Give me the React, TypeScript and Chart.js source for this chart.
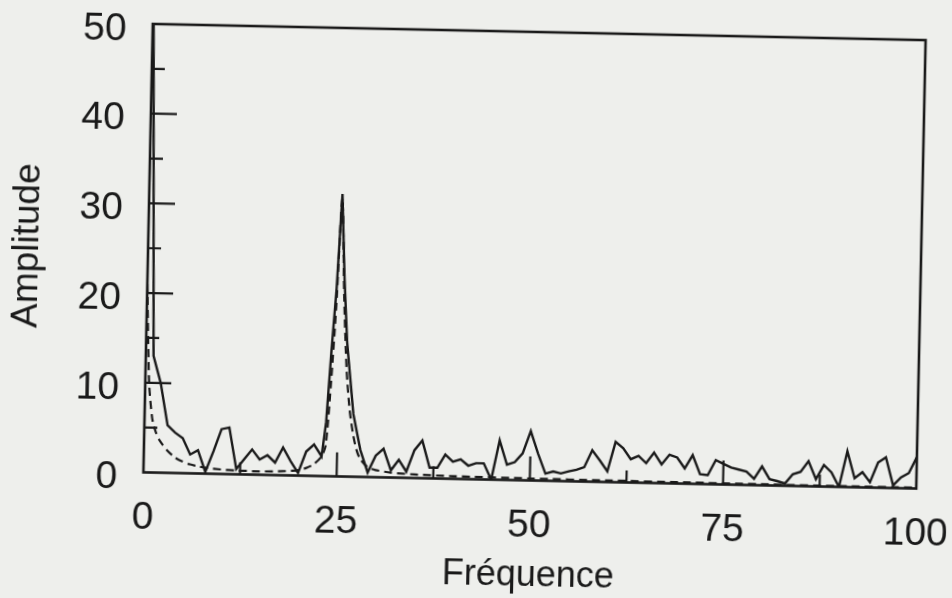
import React, { useEffect, useRef } from 'react';
import { Chart, registerables } from 'chart.js';

Chart.register(...registerables);

// Measured spectrum (solid line): frequency / amplitude
const solidFreq = [
  0, 1, 2, 3, 4, 5, 6, 7, 8, 9, 10, 11, 12, 13, 14, 15, 16, 17, 18, 19, 20, 21, 22, 23,
  23.5, 24, 24.5, 25, 25.5, 26, 26.5, 27, 27.5, 28,
  29, 30, 31, 32, 33, 34, 35, 36, 37, 38, 39, 40, 41, 42, 43, 44, 45, 46, 47, 48, 49, 50,
  51, 52, 53, 54, 55, 56, 57, 58, 59, 60, 61, 62, 63, 64, 65, 66, 67, 68, 69, 70,
  71, 72, 73, 74, 75, 76, 77, 78, 79, 80, 81, 82, 83, 84, 85, 86, 87, 88, 89, 90,
  91, 92, 93, 94, 95, 96, 97, 98, 99, 100,
];
const solidAmp = [
  55, 13, 10, 5.3, 4.5, 3.9, 2.1, 2.6, 0.2, 2.5, 5.0, 5.2, 0.6, 1.7, 2.8, 1.7, 2.2, 1.4, 3.1, 1.6, 0.3, 2.7, 3.5, 2.2,
  6, 14, 21, 31.5, 22, 15, 11, 7, 5, 3.0,
  0.5, 2.4, 3.2, 0.8, 2.0, 0.7, 3.1, 4.2, 1.2, 1.2, 2.7, 1.9, 2.2, 1.5, 1.8, 1.8, 0, 4.4, 1.7, 2.0, 3.0, 5.5,
  3.0, 0.8, 1.05, 0.85, 1.1, 1.3, 1.6, 3.5, 2.4, 1.2, 4.5, 3.8, 2.6, 3.0, 2.2, 3.4, 2.1, 3.2, 2.9, 1.7,
  3.2, 1.1, 1.0, 2.7, 2.3, 1.9, 1.7, 1.5, 0.7, 2.1, 0.7, 0.5, 0.25, 1.3, 1.6, 2.8, 0.8, 2.4, 1.6, 0,
  4.0, 1.0, 1.7, 0.6, 2.8, 3.4, 0.3, 1.2, 1.7, 3.5,
];

// Fitted curve (dashed line)
const fitFreq = [
  0, 0.5, 1, 1.5, 2, 3, 4, 5, 6, 7, 8, 10, 12, 15, 18, 20, 21, 22, 23, 23.5, 24, 24.5, 25,
  25.5, 26, 26.5, 27, 27.5, 28, 29, 30, 32, 35, 40, 50, 60, 70, 80, 90, 100,
];
const fitAmp = [
  21, 10, 6.0, 4.5, 3.6, 2.5, 1.75, 1.3, 1.0, 0.8, 0.65, 0.5, 0.42, 0.38, 0.45, 0.6, 0.85, 1.3, 2.2, 3.4, 10, 19, 31,
  20, 12, 7.5, 4.8, 3.0, 2.0, 1.1, 0.8, 0.55, 0.4, 0.3, 0.22, 0.18, 0.15, 0.12, 0.1, 0.1,
];

const xTickValues = [0, 25, 50, 75, 100];
const yTickValues = [0, 10, 20, 30, 40, 50];
const xInnerMarks = [12.5, 25, 37.5, 50, 62.5, 75, 87.5];
const yInnerMarks = [5, 10, 15, 20, 25, 30, 35, 40, 45];
const xTitle = 'Fréquence';
const yTitle = 'Amplitude';

const INK = '#1a1a1a';
const FONT = "'Liberation Sans', Arial, Helvetica, sans-serif";

const frameAndMarks = {
  id: 'frameAndMarks',
  afterDatasetsDraw(chart: any) {
    const { ctx, chartArea: a, scales } = chart;
    ctx.save();
    ctx.strokeStyle = INK;
    ctx.lineWidth = 2.6;
    ctx.strokeRect(a.left, a.top, a.right - a.left, a.bottom - a.top);
    ctx.lineWidth = 2.2;
    ctx.beginPath();
    yInnerMarks.forEach((v) => {
      const y = scales.y.getPixelForValue(v);
      const len = v % 10 === 0 ? 26 : 13;
      ctx.moveTo(a.left, y);
      ctx.lineTo(a.left + len, y);
    });
    xInnerMarks.forEach((v) => {
      const x = scales.x.getPixelForValue(v);
      const len = v % 25 === 0 ? 24 : 12;
      ctx.moveTo(x, a.bottom);
      ctx.lineTo(x, a.bottom - len);
    });
    ctx.stroke();
    ctx.restore();
  },
};

export default function App() {
  const ref = useRef<HTMLCanvasElement | null>(null);

  useEffect(() => {
    if (!ref.current) return;
    const chart = new Chart(ref.current, {
      type: 'line',
      data: {
        datasets: [
          {
            label: 'mesure',
            data: solidFreq.map((f, i) => ({ x: f, y: solidAmp[i] })),
            borderColor: INK,
            borderWidth: 2.4,
            pointRadius: 0,
            tension: 0,
          },
          {
            label: 'ajustement',
            data: fitFreq.map((f, i) => ({ x: f, y: fitAmp[i] })),
            borderColor: INK,
            borderWidth: 2.2,
            borderDash: [8, 5],
            pointRadius: 0,
            tension: 0.25,
          },
        ],
      },
      options: {
        animation: false,
        responsive: false,
        devicePixelRatio: 1,
        layout: { autoPadding: false, padding: { left: 0, right: 31, top: 32, bottom: 0 } },
        plugins: { legend: { display: false }, tooltip: { enabled: false } },
        scales: {
          x: {
            type: 'linear',
            min: 0,
            max: 100,
            afterBuildTicks: (s: any) => {
              s.ticks = xTickValues.map((v) => ({ value: v }));
            },
            afterFit: (s: any) => {
              s.height = 117.5;
              s.paddingLeft = 0;
              s.paddingRight = 0;
            },
            grid: { display: false, drawTicks: false },
            border: { display: false },
            ticks: {
              color: INK,
              font: { family: FONT, size: 39 },
              padding: 22,
              maxRotation: 0,
              autoSkip: false,
            },
            title: {
              display: true,
              text: xTitle,
              color: INK,
              font: { family: FONT, size: 36 },
              padding: { top: 4, bottom: 0 },
            },
          },
          y: {
            type: 'linear',
            min: 0,
            max: 50,
            afterBuildTicks: (s: any) => {
              s.ticks = yTickValues.map((v) => ({ value: v }));
            },
            afterFit: (s: any) => {
              s.width = 148;
              s.paddingTop = 0;
              s.paddingBottom = 0;
            },
            grid: { display: false, drawTicks: false },
            border: { display: false },
            ticks: {
              color: INK,
              font: { family: FONT, size: 39 },
              padding: 26,
              labelOffset: 6,
              autoSkip: false,
            },
            title: {
              display: true,
              text: yTitle,
              color: INK,
              font: { family: FONT, size: 37 },
              padding: { top: 6, bottom: 0 },
            },
          },
        },
      },
      plugins: [frameAndMarks],
    } as any);
    return () => chart.destroy();
  }, []);

  return (
    <div
      style={{
        position: 'fixed',
        left: 0,
        top: 0,
        width: 952,
        height: 598,
        background: '#eeefec',
        overflow: 'hidden',
      }}
    >
      <div
        style={{
          position: 'absolute',
          left: 0,
          top: 0,
          width: 952,
          height: 598,
          transform: 'rotate(1.2deg)',
          transformOrigin: '534.75px 256.5px',
        }}
      >
        <canvas ref={ref} width={952} height={598} style={{ display: 'block' }} />
      </div>
    </div>
  );
}
